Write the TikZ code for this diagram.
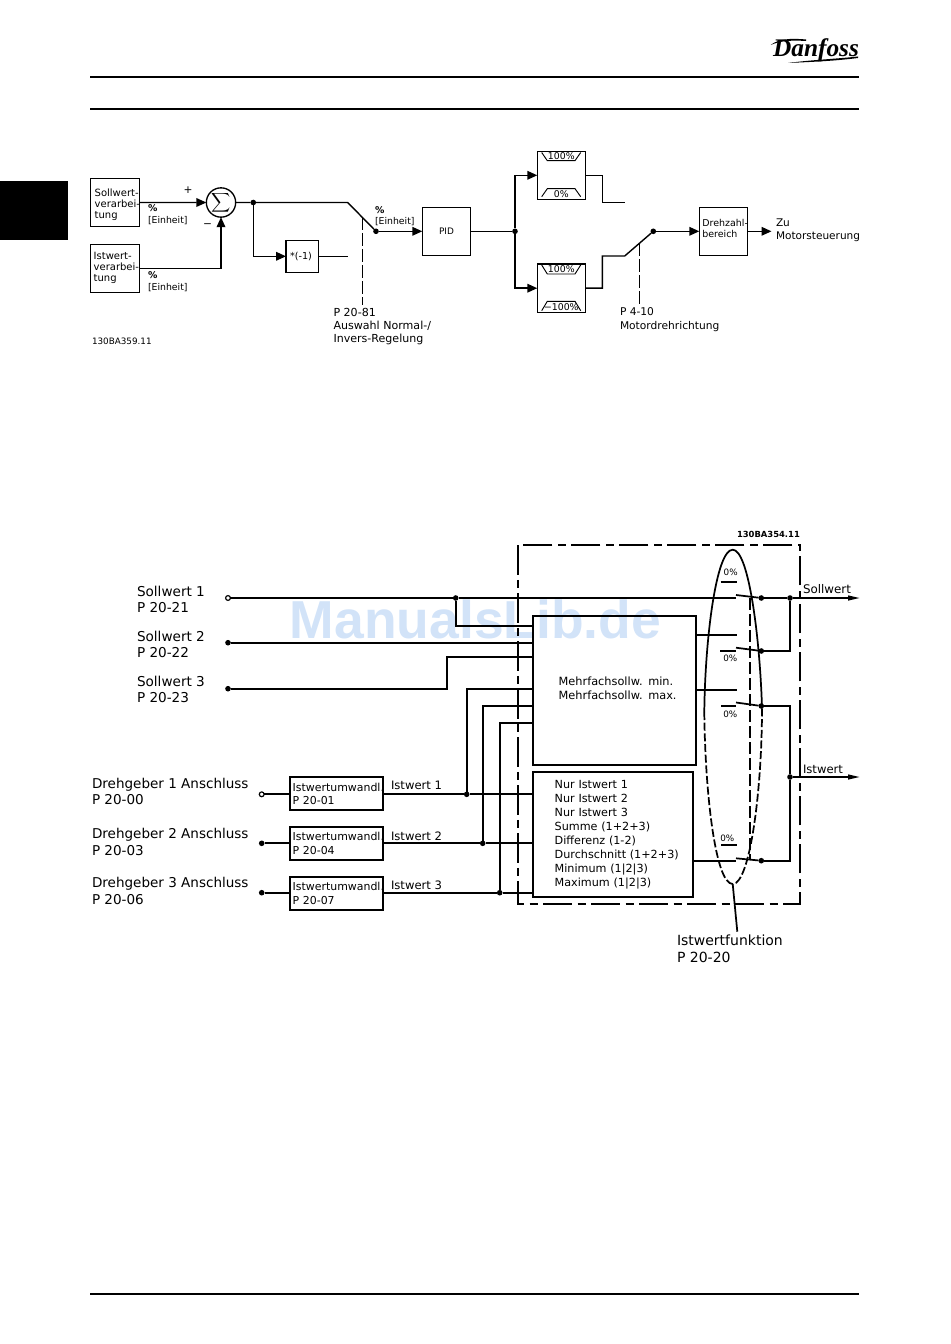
\documentclass[tikz,border=0pt]{standalone}
\usepackage{fontspec}
\setmainfont{DejaVu Sans}
\newfontfamily\logofont{Liberation Serif}
\newfontfamily\markfont{Liberation Sans}
\usetikzlibrary{arrows.meta}
\hyphenpenalty=10000
\exhyphenpenalty=10000
\definecolor{mark}{HTML}{D2E3F8}
\newcommand{\fs}[2]{\fontsize{#1}{#2}\selectfont}
% name, x1, y1, x2, y2, left padding, style, text
\newcommand{\bx}[8]{%
  \pgfmathsetlengthmacro\bxw{(#4-#2)*0.75}%
  \pgfmathsetlengthmacro\bxh{(#5-#3)*0.75}%
  \pgfmathsetlengthmacro\bxp{#6*0.75}%
  \node[#7,anchor=north west,minimum width=\bxw,minimum height=\bxh,
        text width=\bxw,inner xsep=0pt] (#1) at (#2,#3) {\leftskip=\bxp\relax #8\par};}
% name, x, y of first line centre, size, leading, text
\newcommand{\tl}[6]{\node[txt,font={\fs{#4}{#5}}] (#1) at ({#2},{#3-0.507*#4}) {#6};}
\tikzset{
  wire/.style={line width=1.05pt,line cap=butt,line join=miter},
  wirelow/.style={line width=1.3pt,line join=miter},
  boxa/.style={draw,line width=1pt,align=left,inner ysep=0pt,outer sep=0pt},
  boxb/.style={draw,line width=1.4pt,align=left,inner ysep=0pt,outer sep=0pt},
  txt/.style={anchor=north west,inner sep=0pt,outer sep=0pt,align=left},
  ctr/.style={inner sep=0pt,outer sep=0pt},
  dot/.style={circle,fill=black,inner sep=0pt,outer sep=0pt,minimum size=4.2pt},
  odot/.style={circle,draw,fill=white,line width=0.9pt,inner sep=0pt,outer sep=0pt,minimum size=3.6pt},
  arr/.style={-{Triangle[length=7.5pt,width=6.5pt]}},
  slim/.style={-{Triangle[length=9pt,width=3.6pt]}},
  frame/.style={line width=1.3pt,dash pattern=on 22pt off 4pt on 6pt off 4pt},
  dsh/.style={line width=1pt,dash pattern=on 10pt off 2pt},
  rule/.style={line width=1.5pt},
}
\begin{document}
\begin{tikzpicture}[x=0.75pt,y=-0.75pt]
\useasboundingbox (0,0) rectangle (950,1344);
% page furniture
\fill (0,181) rectangle (68,240);
\coordinate (ra1) at (90,77); \coordinate (ra2) at (859,77);
\coordinate (rb1) at (90,109); \coordinate (rb2) at (859,109);
\coordinate (rc1) at (90,1294); \coordinate (rc2) at (859,1294);
\draw[rule] (ra1) -- (ra2); \draw[rule] (rb1) -- (rb2); \draw[rule] (rc1) -- (rc2);
\node[ctr,font={\logofont\bfseries\itshape\fs{19}{19}}] (logo) at (816,50) {Danfoss};
\fill (770.7,45) .. controls (778,39) and (790,38) .. (806,39.5) -- (806,41) .. controls (790,40) and (780,41) .. (770.7,45) -- cycle;
\fill (788,63) .. controls (810,60) and (835,59) .. (858,56.5) -- (858,58) .. controls (835,61) and (810,62) .. (788,63) -- cycle;
% watermark
\node[ctr,font={\markfont\bfseries\fs{40.1}{40.1}},text=mark] (wm) at (475.5,619) {ManualsLib.de};

%% ---------- upper diagram ----------
\bx{soll}{90.7}{178.3}{139.3}{226.7}{4}{boxa,text height=8.7pt,font={\fs{7.5}{8.3}}}{Sollwert-\\verarbei-\\tung}
\bx{ist}{90.7}{244.3}{139.3}{292.3}{3}{boxa,font={\fs{7.5}{8.3}}}{Istwert-\\verarbei-\\tung}
\node[circle,draw,line width=1pt,minimum size=22pt,inner sep=0pt,outer sep=0pt] (sig) at (221,202.5) {$\displaystyle\sum$};
\node[dot] (j1) at (253.3,202.5) {};
\coordinate (sw1a) at (347.7,202.5);
\node[dot] (sw1b) at (376,231.3) {};
\coordinate (inv) at (253.3,256.3);
\bx{neg}{286}{240.3}{318.3}{272.3}{4}{boxa,font={\fs{7.2}{8.5}}}{*(-1)}
\coordinate (negend) at (347.7,256.3);
\node[boxa,anchor=north west,minimum width=36.3pt,minimum height=36pt,align=center,font={\fs{6.7}{8}}] (pid) at (422.3,207.3) {PID};
\node[dot] (j2) at (515,231.3) {};
\coordinate (up) at (515,175.3); \coordinate (dn) at (515,288.2);
\bx{limA}{537.3}{151.3}{585.7}{199.3}{1}{boxa}{}
\bx{limB}{537.3}{264}{585.7}{312.3}{1}{boxa}{}
\coordinate (a1) at (602.3,175.3); \coordinate (a2) at (602.3,202.3); \coordinate (a3) at (624.7,202.3);
\coordinate (b1) at (602.3,288.2); \coordinate (b2) at (602.3,256); \coordinate (b3) at (624.7,256);
\node[dot] (sw2b) at (653.3,231.3) {};
\bx{rpm}{699.3}{207.3}{747.3}{255.3}{3}{boxa,text depth=12.6pt,font={\fs{7.1}{8.3}}}{Drehzahl-\\bereich}
\coordinate (motor) at (771.5,231.3);
\coordinate (d1a) at (362.3,217); \coordinate (d1b) at (362.3,305);
\coordinate (d2a) at (639.3,243); \coordinate (d2b) at (639.3,305);

\draw[wire,arr] (soll.east) -- (sig.west);
\draw[wire,arr] (ist.east |- 0,268.3) -| (sig.south);
\draw[wire] (sig.east) -- (j1) -- (sw1a) -- (sw1b);
\draw[wire,arr] (sw1b) -- (pid.west);
\draw[wire,arr] (j1) -- (inv) -- (neg.west);
\draw[wire] (neg.east) -- (negend);
\draw[dsh] (d1a) -- (d1b);
\draw[wire] (pid.east) -- (j2);
\draw[wire,arr] (j2) -- (up) -- (up -| limA.west);
\draw[wire,arr] (j2) -- (dn) -- (dn -| limB.west);
\draw[wire] (a1 -| limA.east) -- (a1) -- (a2) -- (a3);
\draw[wire] (b1 -| limB.east) -- (b1) -- (b2) -- (b3) -- (sw2b);
\draw[wire,arr] (sw2b) -- (rpm.west);
\draw[wire,arr] (rpm.east) -- (motor);
\draw[dsh] (d2a) -- (d2b);
% limiter marks
\draw[line width=0.7pt] (541.7,152.5) -- (547.3,160.7) -- (575,160.7) -- (580.7,152.5);
\draw[line width=0.7pt] (541.7,196.7) -- (547.3,188.7) -- (575,188.7) -- (580.7,196.7);
\draw[line width=0.7pt] (541.7,265) -- (547.3,274) -- (575,274) -- (580.7,265);
\draw[line width=0.7pt] (541.7,310.7) -- (547.3,301.3) -- (575,301.3) -- (580.7,310.7);
\node[ctr,font={\fs{7}{8}}] (t100a) at (561.3,156.3) {100\%};
\node[ctr,font={\fs{7}{8}}] (t0a) at (561.3,194) {0\%};
\node[ctr,font={\fs{7}{8}}] (t100b) at (561.3,269.5) {100\%};
\node[ctr,font={\fs{7}{8}}] (t100c) at (561.3,307) {−100\%};
% upper labels
\node[ctr,font={\fs{8}{8}}] (plus) at (188,190) {+};
\node[ctr,font={\fs{8}{8}}] (minus) at (207.7,225.3) {−};
\tl{e1}{148}{208.5}{7}{8.8}{\textbf{\%}\\{[}Einheit{]}}
\tl{e2}{148}{275.5}{7}{8.8}{\textbf{\%}\\{[}Einheit{]}}
\tl{e3}{375}{209.7}{7}{8.8}{\textbf{\%}\\{[}Einheit{]}}
\tl{p81}{333.5}{312}{8.3}{10.1}{P 20-81\\Auswahl Normal-/\\Invers-Regelung}
\tl{p410}{620}{312}{8}{10.1}{P 4-10\\Motordrehrichtung}
\tl{zu}{776}{222.5}{7.9}{10.2}{Zu\\Motorsteuerung}
\tl{c1}{92}{341}{6.6}{8}{130BA359.11}

%% ---------- lower diagram ----------
\coordinate (fa) at (517.7,545.3); \coordinate (fb) at (800.3,904);
\draw[frame] (fa) rectangle (fb);
\bx{mf}{532.7}{615.7}{696.3}{765}{26}{boxb,text depth=13.5pt,font={\fs{8.5}{10.5}}}{Mehrfachsollw. min.\\Mehrfachsollw. max.}
\bx{lst}{532.7}{772}{692.7}{897.3}{22}{boxb,font={\fs{8.4}{10.57}}}{Nur Istwert 1\\Nur Istwert 2\\Nur Istwert 3\\Summe (1+2+3)\\Differenz (1-2)\\Durchschnitt (1+2+3)\\Minimum (1|2|3)\\Maximum (1|2|3)}
\bx{u1}{289.7}{777.3}{383.3}{810}{3}{boxb,font={\fs{8.2}{10.1}}}{Istwertumwandl.\\P 20-01}
\bx{u2}{289.7}{827}{383.3}{860}{3}{boxb,font={\fs{8.2}{10.1}}}{Istwertumwandl.\\P 20-04}
\bx{u3}{289.7}{877}{383.3}{909.7}{3}{boxb,font={\fs{8.2}{10.1}}}{Istwertumwandl.\\P 20-07}
\node[odot] (s1) at (228,598) {};
\node[dot] (s2) at (228,642.7) {};
\node[dot] (s3) at (228,688.7) {};
\node[odot] (g1) at (261.7,794.3) {};
\node[dot] (g2) at (261.7,843.3) {};
\node[dot] (g3) at (261.7,892.7) {};
\node[dot] (js) at (455.7,598) {};
\node[dot] (ji1) at (466.7,794.3) {};
\node[dot] (ji2) at (482.7,843.3) {};
\node[dot] (ji3) at (499.7,892.7) {};
\coordinate (js2) at (455.7,626);
\coordinate (s3a) at (447.3,688.7); \coordinate (s3b) at (447.3,657.3);
\coordinate (i1t) at (466.7,689); \coordinate (i2t) at (482.7,706.3); \coordinate (i3t) at (499.7,723);
\draw[wirelow] (s1) -- (js) -- (736,598);
\draw[wirelow] (js) -- (js2) -- (js2 -| mf.west);
\draw[wirelow] (s2) -- (s2 -| mf.west);
\draw[wirelow] (s3) -- (s3a) -- (s3b) -- (s3b -| mf.west);
\draw[wirelow] (g1) -- (g1 -| u1.west);
\draw[wirelow] (g2) -- (g2 -| u2.west);
\draw[wirelow] (g3) -- (g3 -| u3.west);
\draw[wirelow] (ji1 -| u1.east) -- (ji1) -- (ji1 -| lst.west);
\draw[wirelow] (ji2 -| u2.east) -- (ji2) -- (ji2 -| lst.west);
\draw[wirelow] (ji3 -| u3.east) -- (ji3) -- (ji3 -| lst.west);
\draw[wirelow] (ji1) -- (i1t) -- (i1t -| mf.west);
\draw[wirelow] (ji2) -- (i2t) -- (i2t -| mf.west);
\draw[wirelow] (ji3) -- (i3t) -- (i3t -| mf.west);
% switches
\node[dot] (k1) at (761.3,598) {};
\node[dot] (k2) at (761.3,651) {};
\node[dot] (k3) at (761.3,706) {};
\node[dot] (k4) at (761.3,860.7) {};
\node[dot] (o1) at (790,598) {};
\node[dot] (o2) at (790,777) {};
\coordinate (h1) at (736,595); \coordinate (h2) at (736,647.7); \coordinate (h3) at (736,702.5); \coordinate (h4) at (736,858.3);
\coordinate (sol) at (860,598); \coordinate (isw) at (860,777);
\coordinate (c2) at (790,651); \coordinate (c3) at (790,706); \coordinate (c4) at (790,860.7);
\draw[wirelow] (h1) -- (k1); \draw[wirelow] (h2) -- (k2); \draw[wirelow] (h3) -- (k3); \draw[wirelow] (h4) -- (k4);
\draw[wirelow,slim] (k1) -- (o1) -- (sol);
\draw[wirelow] (k2) -- (c2) -- (o1);
\draw[wirelow] (k3) -- (c3) -- (o2) -- (c4) -- (k4);
\draw[wirelow,slim] (o2) -- (isw);
\draw[wirelow] (mf.east |- 0,635.3) -- (737,635.3);
\draw[wirelow] (mf.east |- 0,690) -- (737,690);
\draw[wirelow] (lst.east |- 0,860.7) -- (736,860.7);
\draw[wirelow] (720.7,582.3) -- (737,582.3);
\draw[wirelow] (720,651) -- (736,651);
\draw[wirelow] (721.3,705.7) -- (736,705.7);
\draw[wirelow] (721,845) -- (737,845);
\draw[line width=1.5pt,dash pattern=on 9pt off 3pt] (750,598) -- (750,860);
% selector ellipse
\coordinate (etop) at (732.7,549.7); \coordinate (ebot) at (732.7,884);
\draw[wirelow] (704.3,712) .. controls (705,640) and (716,549.7) .. (etop) .. controls (749,549.7) and (760,640) .. (762,708);
\draw[line width=1.3pt,dash pattern=on 6pt off 2pt] (704.3,712) .. controls (705,790) and (715,884) .. (ebot) .. controls (750,884) and (762,790) .. (762,708);
\coordinate (ptr) at (737.3,931.7);
\draw[wirelow] (ebot) -- (ptr);
\node[ctr,font={\fs{6.6}{8}}] (z1) at (730.7,572.3) {0\%};
\node[ctr,font={\fs{6.6}{8}}] (z2) at (730.3,658) {0\%};
\node[ctr,font={\fs{6.6}{8}}] (z3) at (730.3,714.3) {0\%};
\node[ctr,font={\fs{6.6}{8}}] (z4) at (727.3,838) {0\%};
% lower labels
\tl{l1}{137}{591}{10.2}{12}{Sollwert 1\\P 20-21}
\tl{l2}{137}{636}{10.2}{12}{Sollwert 2\\P 20-22}
\tl{l3}{137}{681}{10.2}{12.2}{Sollwert 3\\P 20-23}
\tl{l4}{92}{783}{10.15}{12.4}{Drehgeber 1 Anschluss\\P 20-00}
\tl{l5}{92}{833.5}{10.15}{12.4}{Drehgeber 2 Anschluss\\P 20-03}
\tl{l6}{92}{882.5}{10.15}{12.4}{Drehgeber 3 Anschluss\\P 20-06}
\tl{w1}{391}{785}{8.7}{10}{Istwert 1}
\tl{w2}{391}{836}{8.7}{10}{Istwert 2}
\tl{w3}{391}{885}{8.7}{10}{Istwert 3}
\tl{o3}{803}{589}{8.9}{10}{Sollwert}
\tl{o4}{803}{769}{8.7}{10}{Istwert}
\tl{fn}{677}{940}{10.5}{12.8}{Istwertfunktion\\P 20-20}
\node[txt,font={\bfseries\fs{6.3}{8}}] (c2t) at (737,531) {130BA354.11};
\end{tikzpicture}
\end{document}
